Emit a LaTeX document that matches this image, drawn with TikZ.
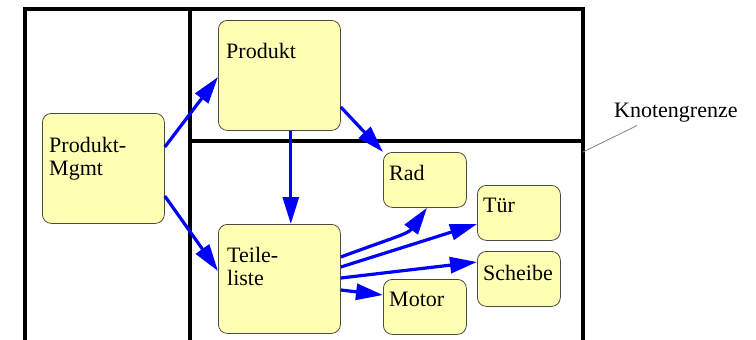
\documentclass[tikz,border=0pt]{standalone}
\usepackage{fontspec}
\setmainfont{Liberation Serif}
\usetikzlibrary{arrows.meta,calc}
\definecolor{boxfill}{HTML}{FFFFB4}
\definecolor{boxline}{HTML}{4A4A40}
\definecolor{arrblue}{HTML}{0000FF}
\definecolor{leadgray}{HTML}{808080}
\begin{document}
\begin{tikzpicture}[x=1pt,y=-1pt,
  box/.style={draw=boxline, line width=0.8pt, fill=boxfill, rounded corners=9pt, inner sep=0pt, anchor=north west},
  bigbox/.style={box, minimum width=122pt, minimum height=110pt},
  smallbox/.style={box, minimum width=83pt, minimum height=55pt},
  lbl/.style={font=\fontsize{22}{23}\selectfont, inner sep=0pt, anchor=north west, align=left},
  frame/.style={line width=3.3pt, black},
  conn/.style={draw=arrblue, line width=3.2pt, -{Triangle[length=27pt,width=16pt]}},
]
\useasboundingbox (0,0) rectangle (756,340);
% frame (node boundaries)
\draw[frame] (25,341) -- (25,9) -- (583,9) -- (583,341);
\draw[frame] (190,9) -- (190,341);
\draw[frame] (190,141) -- (583,141);
% boxes
\node[bigbox] (mgmt) at (42,113) {};
\node[lbl] (mgmtt) at (49,137) {Produkt-\\Mgmt};
\node[bigbox] (prod) at (218,20) {};
\node[lbl] (prodt) at (226,43) {Produkt};
\node[bigbox, minimum height=109pt] (teile) at (218,224) {};
\node[lbl] (teilet) at (227,247) {Teile-\\liste};
\node[smallbox] (rad) at (383,152) {};
\node[lbl] (radt) at (389,165) {Rad};
\node[smallbox] (tuer) at (477,185) {};
\node[lbl] (tuert) at (483,198) {Tür};
\node[smallbox] (scheibe) at (477,251) {};
\node[lbl] (scheibet) at (483,265) {Scheibe};
\node[smallbox] (motor) at (383,279) {};
\node[lbl] (motort) at (389,292) {Motor};
% connectors
\draw[conn] ($(mgmt.north east)+(0,34)$) -- ($(prod.north west)+(0,57)$);
\draw[conn] ($(mgmt.north east)+(0,83)$) -- ($(teile.north west)+(0,47)$);
\draw[conn] ($(prod.south east)+(-50,0)$) -- ($(teile.north east)+(-50,0)$);
\draw[conn] ($(prod.north east)+(0,87)$) -- (rad.north west);
\draw[conn] ($(teile.north east)+(0,33)$) .. controls (392,238) and (408,234) .. ($(rad.south west)+(44,0)$);
\draw[conn] ($(teile.north east)+(0,43)$) -- ($(tuer.north west)+(0,39)$);
\draw[conn] ($(teile.north east)+(0,54)$) -- ($(scheibe.north west)+(0,11)$);
\draw[conn] ($(teile.north east)+(0,66)$) -- ($(motor.north west)+(0,16)$);
% annotation
\node[lbl] (kg) at (614,103) {Knotengrenze};
\coordinate (kgp) at (583,152);
\draw[leadgray, line width=0.8pt] (kgp) -- ($(kg.south west)+(23,3)$);
\end{tikzpicture}
\end{document}
